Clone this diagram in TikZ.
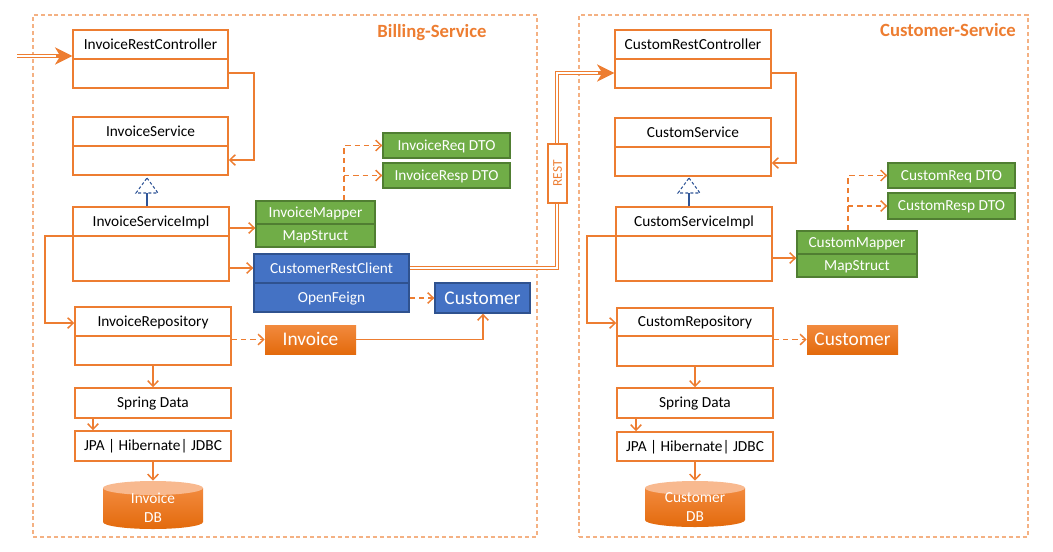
\documentclass[tikz,border=0pt]{standalone}
\usepackage{fontspec}
\setmainfont{Carlito}
\usetikzlibrary{arrows.meta,fit}

\definecolor{oline}{HTML}{ED7D31}
\definecolor{framec}{HTML}{F4B183}
\definecolor{gfill}{HTML}{70AD47}
\definecolor{gedge}{HTML}{507E32}
\definecolor{bfill}{HTML}{4472C4}
\definecolor{bedge}{HTML}{2F528F}
\definecolor{triblue}{HTML}{2F5597}
\definecolor{otop}{HTML}{F28A3E}
\definecolor{obot}{HTML}{E36A0C}
\definecolor{dbcap}{HTML}{F8B98F}

% plain box with a centred text: name, x1, y1, x2, y2, box style, text style, text
\newcommand\tbox[8]{%
  \node[#6, fit={(#2,#3) (#4,#5)}] (#1) {};
  \node[#7] (#1-t) at ({(#2+#4)/2},{(#3+#5)/2}) {#8};}

% class box with a name compartment: name, x1, y1, x2, y2, divider y, title
\newcommand\umlbox[7]{%
  \node[ubox, fit={(#2,#3) (#4,#5)}] (#1) {};
  \draw[oline, line width=1.1pt] (#1.west |- 0,#6) -- (#1.east |- 0,#6);
  \node[lbl] (#1-t) at ({(#2+#4)/2},{(#3+#6)/2}) {#7};}

% two-part coloured box: name, x1, y1, x2, y2, divider y, upper, lower, style
\newcommand\twobox[9]{%
  \node[#9, fit={(#2,#3) (#4,#5)}] (#1) {};
  \draw[#9 div] (#1.west |- 0,#6) -- (#1.east |- 0,#6);
  \node[wlbl] (#1-a) at ({(#2+#4)/2},{(#3+#6)/2}) {#7};
  \node[wlbl] (#1-b) at ({(#2+#4)/2},{(#6+#5)/2}) {#8};}

% database cylinder: name, x1, y1, x2, y2, text
\newcommand\dbcyl[6]{%
  \shade[top color=otop, bottom color=obot]
    (#2,{#3+7}) -- (#2,{#5-7})
    arc[start angle=180, end angle=360, x radius={(#4-#2)*0.375pt}, y radius=5.25pt]
    -- (#4,{#3+7}) -- cycle;
  \fill[dbcap] ({(#2+#4)/2},{#3+7}) ellipse[x radius={(#4-#2)*0.375pt}, y radius=5.25pt];
  \node[fit={(#2,#3) (#4,#5)}, inner sep=0pt] (#1) {};
  \node[dbtext] (#1-t) at ({(#2+#4)/2},{(#3+#5)/2+3}) {#6};}

% dashed inheritance triangle above the given base centre
\newcommand\realize[1]{%
  \draw[triblue, line width=0.8pt, dash pattern=on 2.2pt off 1.6pt]
    (#1) ++(0,-15) -- ++(11,15) -- ++(-22,0) -- cycle;}

\begin{document}
\begin{tikzpicture}[x=0.75pt, y=-0.75pt,
  frame/.style={draw=framec, line width=1.1pt, dash pattern=on 3pt off 2.2pt, inner sep=0pt},
  ubox/.style={draw=oline, line width=1.1pt, fill=white, inner sep=0pt},
  lbl/.style={inner sep=0pt, anchor=base, yshift=-3.7pt, font=\fontsize{11.5}{13}\selectfont, text=black},
  wlbl/.style={lbl, text=white},
  biglbl/.style={inner sep=0pt, anchor=base, yshift=-4.7pt, font=\fontsize{14.5}{17}\selectfont, text=white},
  dbtext/.style={font=\fontsize{11.5}{14}\selectfont, text=white, align=center, inner sep=0pt},
  gbox/.style={draw=gedge, line width=1pt, fill=gfill, inner sep=0pt},
  gbox div/.style={draw=gedge, line width=1pt},
  bbox/.style={draw=bedge, line width=1pt, fill=bfill, inner sep=0pt},
  bbox div/.style={draw=bedge, line width=1pt},
  obox/.style={inner sep=0pt, top color=otop, bottom color=obot},
  title/.style={inner sep=0pt, anchor=base, yshift=-4.5pt, font=\fontsize{14}{17}\selectfont\bfseries, text=oline},
  wire/.style={draw=oline, line width=1.1pt, -{Straight Barb[length=4.2pt, width=8pt]}},
  dwire/.style={wire, dash pattern=on 4pt off 3pt},
  dbl/.style={draw=oline, line width=0.8pt, double=white, double distance=1.4pt},
  bigtip/.style={draw=oline, line width=1pt, -{Stealth[length=13pt, width=13pt, inset=4pt]}},
  restbox/.style={draw=oline, line width=1.5pt, fill=white, rotate=90, inner sep=0pt,
    minimum width=44pt, minimum height=14pt, font=\fontsize{10}{12}\selectfont, text=oline}]
\useasboundingbox (0,0) rectangle (1053,551);

% ---- service boundaries ----
\node[frame, fit={(33,15) (537,537)}] (billing) {};
\node[frame, fit={(579,15) (1028,537)}] (custsvc) {};
\node[title] (billing-t) at (432,31) {Billing-Service};
\node[title] (custsvc-t) at (948,30) {Customer-Service};

% ---- Billing-Service ----
\umlbox{irc}{73}{30}{228}{88}{59}{InvoiceRestController}
\umlbox{is}{73}{117}{228}{175}{146}{InvoiceService}
\umlbox{isi}{73}{207}{229}{281}{236}{InvoiceServiceImpl}
\umlbox{irp}{75}{307}{231}{365}{336}{InvoiceRepository}
\tbox{isd}{75}{388}{231}{418}{ubox}{lbl}{Spring Data}
\tbox{ijpa}{75}{431}{231}{461}{ubox}{lbl}{JPA | Hibernate| JDBC}
\dbcyl{idb}{103}{481}{203}{529}{Invoice\\DB}

\twobox{imap}{256}{201}{375}{247}{224}{InvoiceMapper}{MapStruct}{gbox}
\tbox{ireq}{383}{133}{510}{158}{gbox}{wlbl}{InvoiceReq DTO}
\tbox{iresp}{383}{163}{510}{188}{gbox}{wlbl}{InvoiceResp DTO}
\twobox{icrc}{254}{254}{409}{312}{283}{CustomerRestClient}{OpenFeign}{bbox}
\tbox{cust}{435}{283}{530}{313}{bbox}{biglbl}{Customer}
\tbox{inv}{265}{325}{356}{354}{obox}{biglbl}{Invoice}

\coordinate (itri) at (147,193);
\realize{itri}
\draw[triblue, line width=0.8pt] (isi.north -| itri) -- (itri);

% incoming request
\coordinate (entry) at (17,56);
\draw[dbl, shorten >=8pt] (entry) -- (irc.west |- entry);
\draw[bigtip] (irc.west |- entry) ++(-16,0) -- (irc.west |- entry);

\draw[wire] (irc.east |- 0,73) -- (254,73) |- (is.east |- 0,160);
\draw[wire] (isi.west |- 0,236) -- (45,236) |- (irp.west |- 0,323);
\draw[wire] (isi.east |- 0,228) -- (imap.west |- 0,228);
\draw[wire] (isi.east |- 0,268) -- (icrc.west |- 0,268);
\draw[dwire] (imap.north -| 344,0) |- (ireq.west);
\draw[dwire] (iresp.west -| 344,0) -- (iresp.west);
\draw[dwire] (icrc.east |- cust.west) -- (cust.west);
\draw[dwire] (irp.east |- inv.west) -- (inv.west);
\draw[wire] (inv.east) -| (cust.south -| 483,0);
\draw[wire] (irp.south) -- (isd.north);
\draw[wire] (isd.south -| 93,0) -- (ijpa.north -| 93,0);
\draw[wire] (ijpa.south) -- (idb.north);

% ---- Customer-Service ----
\umlbox{crc}{615}{30}{771}{88}{59}{CustomRestController}
\umlbox{cs}{615}{118}{771}{176}{147}{CustomService}
\umlbox{csi}{616}{207}{772}{281}{236}{CustomServiceImpl}
\umlbox{crp}{617}{308}{773}{366}{336}{CustomRepository}
\tbox{csd}{617}{388}{773}{418}{ubox}{lbl}{Spring Data}
\tbox{cjpa}{617}{432}{773}{461}{ubox}{lbl}{JPA | Hibernate| JDBC}
\dbcyl{cdb}{645}{481}{745}{527}{Customer\\DB}

\twobox{cmap}{797}{231}{917}{277}{254}{CustomMapper}{MapStruct}{gbox}
\tbox{creq}{888}{163}{1015}{188}{gbox}{wlbl}{CustomReq DTO}
\tbox{cresp}{888}{193}{1015}{219}{gbox}{wlbl}{CustomResp DTO}
\tbox{ccust}{807}{325}{898}{354}{obox}{biglbl}{Customer}

\coordinate (ctri) at (689,193);
\realize{ctri}
\draw[triblue, line width=0.8pt] (csi.north -| ctri) -- (ctri);

\draw[wire] (crc.east |- 0,73) -- (796,73) |- (cs.east |- 0,163);
\draw[wire] (csi.west |- 0,236) -- (587,236) |- (crp.west |- 0,323);
\draw[wire] (csi.east |- 0,258) -- (cmap.west |- 0,258);
\draw[dwire] (cmap.north -| 848,0) |- (creq.west);
\draw[dwire] (cresp.west -| 848,0) -- (cresp.west);
\draw[dwire] (crp.east |- ccust.west) -- (ccust.west);
\draw[wire] (crp.south) -- (csd.north);
\draw[wire] (csd.south -| 636,0) -- (cjpa.north -| 636,0);
\draw[wire] (cjpa.south) -- (cdb.north);

% ---- REST call between the services ----
\draw[dbl, shorten >=8pt] (icrc.east |- 0,268) -| (557,73) -- (crc.west |- 0,73);
\draw[bigtip] (crc.west |- 0,73) ++(-16,0) -- (crc.west |- 0,73);
\node[restbox] (rest) at (557.5,173.5) {REST};
\end{tikzpicture}
\end{document}
